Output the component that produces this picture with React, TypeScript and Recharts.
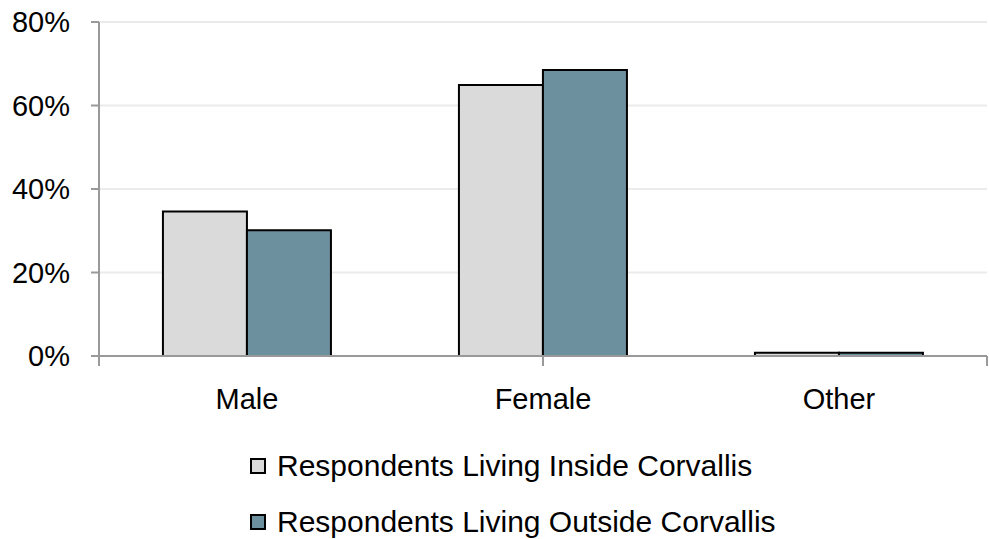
import { BarChart, Bar, CartesianGrid, XAxis, YAxis, Legend } from "recharts";

const categories = ["Male", "Female", "Other"];
const insideValues = [34.6, 64.9, 0.8];
const outsideValues = [30.1, 68.5, 0.8];
const yTicks = [0, 20, 40, 60, 80];
const boundaryTicks = [0, 1, 2, 3];

const INSIDE = "Respondents Living Inside Corvallis";
const OUTSIDE = "Respondents Living Outside Corvallis";

const data = categories.map((c, i) => ({
  cat: c,
  inside: insideValues[i],
  outside: outsideValues[i],
}));

const FONT = "'Liberation Sans', Arial, sans-serif";
const AXIS = "#999999";

function LegendBox({ payload }: any) {
  return (
    <div style={{ width: 989, height: 123, paddingTop: 22, boxSizing: "border-box", fontFamily: FONT }}>
      {(payload || []).map((p: any) => (
        <div key={p.value} style={{ height: 56, display: "flex", alignItems: "center", paddingLeft: 250 }}>
          <span
            style={{
              width: 12,
              height: 12,
              border: "2px solid #000",
              background: p.color,
              display: "inline-block",
              marginRight: 11,
            }}
          />
          <span style={{ fontSize: 30, color: "#000" }}>{p.value}</span>
        </div>
      ))}
    </div>
  );
}

export default function App() {
  return (
    <div style={{ position: "absolute", left: 0, top: 0, fontFamily: FONT }}>
      <BarChart
        width={989}
        height={539}
        data={data}
        margin={{ top: 22, right: 2, left: 0, bottom: 0 }}
        barCategoryGap="21.6%"
        barGap={0}
      >
        <CartesianGrid vertical={false} stroke="#ebebeb" strokeWidth={2} xAxisId={1} />
        <XAxis
          xAxisId={0}
          type="number"
          domain={[0, 3]}
          ticks={boundaryTicks}
          allowDataOverflow
          interval={0}
          tickFormatter={() => ""}
          height={10}
          tickSize={10}
          axisLine={{ stroke: AXIS, strokeWidth: 2 }}
          tickLine={{ stroke: AXIS, strokeWidth: 2 }}
        />
        <XAxis
          xAxisId={1}
          dataKey="cat"
          height={50}
          axisLine={false}
          tickLine={false}
          tickSize={0}
          tickMargin={22}
          tick={{ fontSize: 29, fill: "#000", fontFamily: FONT }}
        />
        <YAxis
          width={99}
          domain={[0, 80]}
          ticks={yTicks}
          tickFormatter={(v) => `${v}%`}
          tickSize={8}
          tickMargin={21}
          axisLine={{ stroke: AXIS, strokeWidth: 2 }}
          tickLine={{ stroke: AXIS, strokeWidth: 2 }}
          tick={{ fontSize: 29, fill: "#000", fontFamily: FONT }}
        />
        <Legend verticalAlign="bottom" align="left" content={<LegendBox />} />
        <Bar xAxisId={1} dataKey="inside" name={INSIDE} fill="#d9dad9" stroke="#000" strokeWidth={2} isAnimationActive={false} />
        <Bar xAxisId={1} dataKey="outside" name={OUTSIDE} fill="#6d909f" stroke="#000" strokeWidth={2} isAnimationActive={false} />
      </BarChart>
    </div>
  );
}
